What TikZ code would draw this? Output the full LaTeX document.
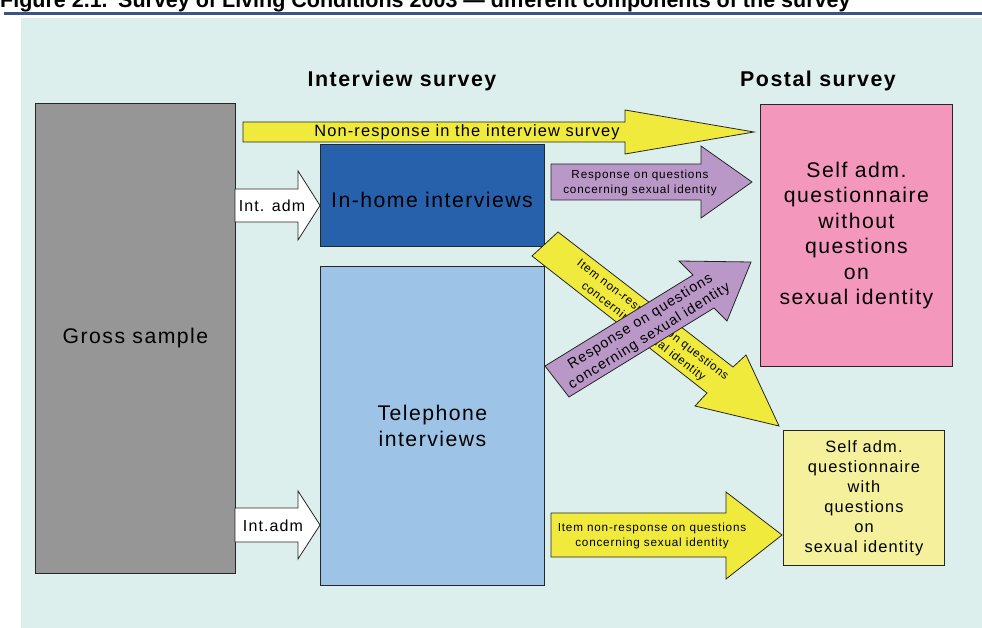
\documentclass[tikz,border=0pt]{standalone}
\usepackage{fontspec}
\setmainfont{Liberation Sans}
\newfontfamily\lsfont[LetterSpace=7]{Liberation Sans}
\definecolor{bgc}{HTML}{DDEFED}
\definecolor{grossc}{HTML}{969696}
\definecolor{inhomec}{HTML}{2761AC}
\definecolor{telc}{HTML}{9DC3E6}
\definecolor{pinkc}{HTML}{F497BD}
\definecolor{yboxc}{HTML}{F4F09C}
\definecolor{yarrc}{HTML}{F0EA3C}
\definecolor{parrc}{HTML}{B997C7}
\definecolor{rulec}{HTML}{3B5485}
\tikzset{
  box/.style={draw=black!85, line width=0.9pt, inner sep=0pt, anchor=north west},
  barrow/.style={draw=black!85, line width=0.8pt, line join=miter},
  lbl/.style={inner sep=0pt, align=center, text=black},
  big/.style={lbl, font={\lsfont\fontsize{21.2}{25.5}\selectfont}},
  mid/.style={lbl, font={\lsfont\fontsize{16.4}{20}\selectfont}},
  small/.style={lbl, font={\lsfont\fontsize{11.7}{15}\selectfont}},
  head/.style={lbl, font={\lsfont\bfseries\fontsize{21.4}{24}\selectfont}},
  ttl/.style={anchor=base west, inner sep=0pt, font=\bfseries\fontsize{21.5}{22}\selectfont},
}
\begin{document}
\begin{tikzpicture}[x=1pt,y=-1pt]
\useasboundingbox (0,0) rectangle (982,628);
% title (cropped at the top)
\node[ttl] (fig) at (0,7.5) {Figure 2.1.};
\node[ttl] (title) at (118,7.5) {Survey of Living Conditions 2003 — different components of the survey};
\draw[rulec, line width=3pt] (4,13.5) -- (982,13.5);
% background
\fill[bgc] (21,18) rectangle (982,628);
% headings
\node[head] (hint) at (402,81) {Interview survey};
\node[head] (hpost) at (818,81) {Postal survey};
% boxes
\node[box, fill=grossc, minimum width=200pt, minimum height=470pt] (gross) at (35,103) {};
\node[big] (grossT) at (gross.center) {Gross sample};
\node[box, fill=inhomec, minimum width=224pt, minimum height=102pt] (inhome) at (320,144) {};
\node[big] (inhomeT) at (432,200) {In-home interviews};
\node[box, fill=telc, minimum width=224pt, minimum height=319pt] (tel) at (320,266) {};
\node[big] (telT) at (tel.center) {Telephone\\interviews};
\node[box, fill=pinkc, minimum width=192pt, minimum height=262pt] (pink) at (760,104) {};
\node[big] (pinkT) at (pink.center) {Self adm.\\questionnaire\\without\\questions\\on\\sexual identity};
\node[box, fill=yboxc, minimum width=161pt, minimum height=135pt] (ybox) at (783,430) {};
\node[mid] (yboxT) at (ybox.center) {Self adm.\\questionnaire\\with\\questions\\on\\sexual identity};
% block arrows
\draw[barrow, fill=yarrc] (243,122) -- (625,122) -- (625,110) -- (754,132) -- (625,154) -- (625,142) -- (243,142) -- cycle;
\node[mid] (nrT) at (467,132) {Non-response in the interview survey};
\draw[barrow, fill=white] (235,189) -- (298,189) -- (298,171) -- (320,205.5) -- (298,240) -- (298,222) -- (235,222) -- cycle;
\node[lbl, font={\lsfont\fontsize{16}{18}\selectfont}] (ia1) at (272,206) {Int. adm};
\draw[barrow, fill=white] (235,508) -- (298,508) -- (298,491) -- (320,525) -- (298,559) -- (298,542) -- (235,542) -- cycle;
\node[lbl, font={\lsfont\fontsize{16}{18}\selectfont}] (ia2) at (273,526) {Int.adm};
\draw[barrow, fill=parrc] (551,164) -- (701,164) -- (701,146) -- (752,182) -- (701,218) -- (701,200) -- (551,200) -- cycle;
\node[small] (rT) at (640,183) {Response on questions\\concerning sexual identity};
\draw[barrow, fill=yarrc] (551,513) -- (726,513) -- (726,492) -- (782,535) -- (726,579) -- (726,557) -- (551,557) -- cycle;
\node[small] (inrT) at (652,536) {Item non-response on questions\\concerning sexual identity};
% diagonal arrows
\draw[barrow, fill=yarrc] (532,256) -- (558,232) -- (733,367) -- (746,355) -- (779,426) -- (695,406) -- (707,393) -- cycle;
\node[small, rotate=-37.9] (dyT) at (648,326) {Item non-response on questions\\concerning sexual identity};
\draw[barrow, fill=parrc] (545,366) -- (693,275) -- (679,261) -- (751,262) -- (727,321) -- (714,308) -- (569,397) -- cycle;
\node[lbl, rotate=32, font={\lsfont\fontsize{14.3}{17}\selectfont}] (dpT) at (645,329) {Response on questions\\concerning sexual identity};
\end{tikzpicture}
\end{document}
